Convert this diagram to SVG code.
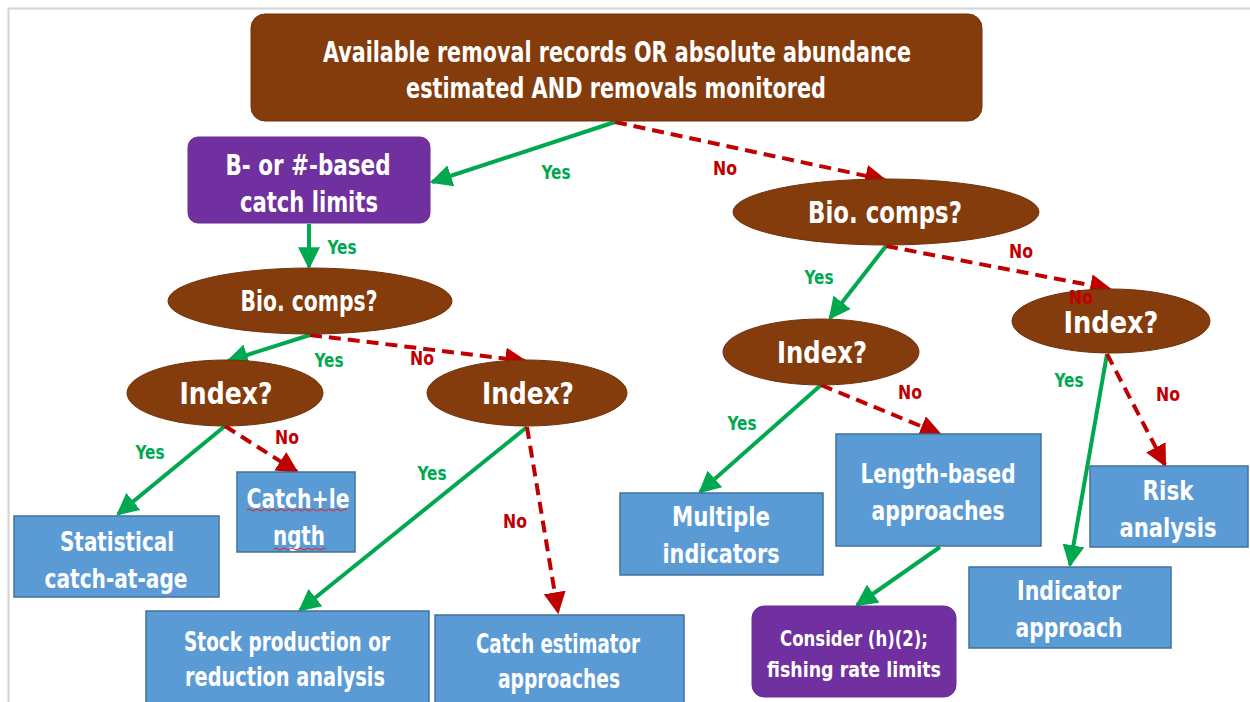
<svg xmlns="http://www.w3.org/2000/svg" width="1250" height="702" viewBox="0 0 1250 702">
<style>
text{font-family:"DejaVu Sans","Liberation Sans",sans-serif;font-stretch:condensed;font-weight:bold;text-anchor:middle}
.t{fill:#ffffff}
.brown{fill:#843c0c;stroke:#6e320a;stroke-width:1}
.purple{fill:#7030a0;stroke:#6a2c98;stroke-width:1}
.blue{fill:#5b9bd5;stroke:#41719c;stroke-width:1.5}
.yes{stroke:#00a84f;stroke-width:4;fill:none}
.no{stroke:#c00000;stroke-width:4;fill:none;stroke-dasharray:12 7}
.ly{fill:#00a84f;font-size:19px}
.ln{fill:#c00000;font-size:19px}
</style>
<defs>
<marker id="ag" viewBox="0 0 10 10" refX="9" refY="5" markerWidth="5.5" markerHeight="5.5" orient="auto" markerUnits="strokeWidth"><path d="M0,0 L10,5 L0,10 z" fill="#00a84f"/></marker>
<marker id="ar" viewBox="0 0 10 10" refX="9" refY="5" markerWidth="5.5" markerHeight="5.5" orient="auto" markerUnits="strokeWidth"><path d="M0,0 L10,5 L0,10 z" fill="#c00000"/></marker>
</defs>
<rect x="0" y="0" width="1250" height="702" fill="#ffffff"/>
<path d="M8,8.5 H1250 M8.5,8 V702" stroke="#d4d4d4" stroke-width="2" fill="none"/>

<g id="connectors">
<line class="yes" x1="615" y1="122" x2="432" y2="182" marker-end="url(#ag)"/>
<line class="no" x1="615" y1="122" x2="885" y2="180" marker-end="url(#ar)"/>
<line class="yes" x1="309" y1="224" x2="309" y2="267" marker-end="url(#ag)"/>
<line class="yes" x1="310" y1="335" x2="228" y2="361" marker-end="url(#ag)"/>
<line class="no" x1="310" y1="335" x2="525" y2="361" marker-end="url(#ar)"/>
<line class="yes" x1="225" y1="426" x2="118" y2="514" marker-end="url(#ag)"/>
<line class="no" x1="225" y1="426" x2="297" y2="472" marker-end="url(#ar)"/>
<line class="yes" x1="527" y1="427" x2="300" y2="610" marker-end="url(#ag)"/>
<line class="no" x1="527" y1="427" x2="558" y2="612" marker-end="url(#ar)"/>
<line class="yes" x1="886" y1="246" x2="830" y2="318" marker-end="url(#ag)"/>
<line class="no" x1="886" y1="246" x2="1110" y2="289" marker-end="url(#ar)"/>
<line class="yes" x1="821" y1="385" x2="700" y2="492" marker-end="url(#ag)"/>
<line class="no" x1="821" y1="385" x2="940" y2="434" marker-end="url(#ar)"/>
<line class="yes" x1="940" y1="547" x2="857" y2="605" marker-end="url(#ag)"/>
<line class="yes" x1="1107" y1="354" x2="1070" y2="565" marker-end="url(#ag)"/>
<line class="no" x1="1107" y1="354" x2="1165" y2="465" marker-end="url(#ar)"/>
</g>

<g id="top">
<rect class="brown" x="251" y="14" width="731" height="107" rx="14"/>
<text class="t" x="617" y="62" font-size="29" textLength="588" lengthAdjust="spacingAndGlyphs">Available removal records OR absolute abundance</text>
<text class="t" x="616" y="98" font-size="29" textLength="420" lengthAdjust="spacingAndGlyphs">estimated AND removals monitored</text>
</g>
<g id="catchlimits">
<rect class="purple" x="188" y="137" width="242" height="86" rx="10"/>
<text class="t" x="308" y="175" font-size="28" textLength="165" lengthAdjust="spacingAndGlyphs">B- or #-based</text>
<text class="t" x="309" y="212" font-size="28" textLength="138" lengthAdjust="spacingAndGlyphs">catch limits</text>
</g>
<g id="bio-left">
<ellipse class="brown" cx="310" cy="301" rx="142" ry="33"/>
<text class="t" x="309" y="311" font-size="28" textLength="137" lengthAdjust="spacingAndGlyphs">Bio. comps?</text>
</g>
<g id="index-left">
<ellipse class="brown" cx="225" cy="393" rx="98" ry="33"/>
<text class="t" x="226" y="404" font-size="31" textLength="93" lengthAdjust="spacingAndGlyphs">Index?</text>
</g>
<g id="index-mid">
<ellipse class="brown" cx="527" cy="393" rx="100" ry="33"/>
<text class="t" x="528" y="404" font-size="31" textLength="92" lengthAdjust="spacingAndGlyphs">Index?</text>
</g>
<g id="statistical">
<rect class="blue" x="14" y="516" width="205" height="81"/>
<text class="t" x="117" y="551" font-size="27" textLength="114" lengthAdjust="spacingAndGlyphs">Statistical</text>
<text class="t" x="116" y="588" font-size="27" textLength="143" lengthAdjust="spacingAndGlyphs">catch-at-age</text>
</g>
<g id="catchlength">
<rect class="blue" x="237" y="472" width="118" height="80"/>
<text class="t" x="298" y="508" font-size="27" textLength="103" lengthAdjust="spacingAndGlyphs">Catch+le</text>
<text class="t" x="299" y="545" font-size="27" textLength="52" lengthAdjust="spacingAndGlyphs">ngth</text>
<path d="M247,510 q2,-2 4,0 t4,0 t4,0 t4,0 t4,0 t4,0 t4,0 t4,0 t4,0 t4,0 t4,0 t4,0 t4,0 t4,0 t4,0 t4,0 t4,0 t4,0 t4,0 t4,0 t4,0 t4,0 t4,0 t4,0 t4,0 M274,549 q2,-2 4,0 t4,0 t4,0 t4,0 t4,0 t4,0 t4,0 t4,0 t4,0 t4,0 t4,0 t4,0 t4,0" stroke="#e02020" stroke-width="1" fill="none"/>
</g>
<g id="stockprod">
<rect class="blue" x="146" y="611" width="283" height="95"/>
<text class="t" x="287" y="651" font-size="27" textLength="206" lengthAdjust="spacingAndGlyphs">Stock production or</text>
<text class="t" x="285" y="686" font-size="27" textLength="200" lengthAdjust="spacingAndGlyphs">reduction analysis</text>
</g>
<g id="catchest">
<rect class="blue" x="435" y="615" width="249" height="91"/>
<text class="t" x="558" y="653" font-size="27" textLength="164" lengthAdjust="spacingAndGlyphs">Catch estimator</text>
<text class="t" x="559" y="688" font-size="27" textLength="122" lengthAdjust="spacingAndGlyphs">approaches</text>
</g>
<g id="bio-right">
<ellipse class="brown" cx="886" cy="212" rx="153" ry="33"/>
<text class="t" x="885" y="223" font-size="30" textLength="154" lengthAdjust="spacingAndGlyphs">Bio. comps?</text>
</g>
<g id="index-mr">
<ellipse class="brown" cx="821" cy="352" rx="98" ry="33"/>
<text class="t" x="822" y="363" font-size="31" textLength="90" lengthAdjust="spacingAndGlyphs">Index?</text>
</g>
<g id="index-r">
<ellipse class="brown" cx="1111" cy="321" rx="99" ry="32"/>
<text class="t" x="1111" y="333" font-size="31" textLength="95" lengthAdjust="spacingAndGlyphs">Index?</text>
</g>
<g id="multiple">
<rect class="blue" x="620" y="493" width="203" height="82"/>
<text class="t" x="721" y="526" font-size="27" textLength="98" lengthAdjust="spacingAndGlyphs">Multiple</text>
<text class="t" x="721" y="563" font-size="27" textLength="117" lengthAdjust="spacingAndGlyphs">indicators</text>
</g>
<g id="lengthbased">
<rect class="blue" x="836" y="434" width="205" height="112"/>
<text class="t" x="938" y="483" font-size="27" textLength="155" lengthAdjust="spacingAndGlyphs">Length-based</text>
<text class="t" x="938" y="520" font-size="27" textLength="133" lengthAdjust="spacingAndGlyphs">approaches</text>
</g>
<g id="consider">
<rect class="purple" x="752" y="606" width="204" height="91" rx="12"/>
<text class="t" x="854" y="646" font-size="22" textLength="148" lengthAdjust="spacingAndGlyphs">Consider (h)(2);</text>
<text class="t" x="854" y="677" font-size="22" textLength="174" lengthAdjust="spacingAndGlyphs">fishing rate limits</text>
</g>
<g id="risk">
<rect class="blue" x="1090" y="466" width="158" height="81"/>
<text class="t" x="1168" y="500" font-size="27" textLength="51" lengthAdjust="spacingAndGlyphs">Risk</text>
<text class="t" x="1168" y="537" font-size="27" textLength="97" lengthAdjust="spacingAndGlyphs">analysis</text>
</g>
<g id="indicator">
<rect class="blue" x="969" y="567" width="202" height="81"/>
<text class="t" x="1069" y="600" font-size="27" textLength="104" lengthAdjust="spacingAndGlyphs">Indicator</text>
<text class="t" x="1069" y="637" font-size="27" textLength="107" lengthAdjust="spacingAndGlyphs">approach</text>
</g>

<g id="connector-labels">
<text class="ly" x="556" y="179" textLength="29" lengthAdjust="spacingAndGlyphs">Yes</text>
<text class="ln" x="725" y="175" textLength="24" lengthAdjust="spacingAndGlyphs">No</text>
<text class="ly" x="342" y="254" textLength="29" lengthAdjust="spacingAndGlyphs">Yes</text>
<text class="ly" x="329" y="367" textLength="29" lengthAdjust="spacingAndGlyphs">Yes</text>
<text class="ln" x="422" y="365" textLength="24" lengthAdjust="spacingAndGlyphs">No</text>
<text class="ly" x="150" y="459" textLength="29" lengthAdjust="spacingAndGlyphs">Yes</text>
<text class="ln" x="287" y="444" textLength="24" lengthAdjust="spacingAndGlyphs">No</text>
<text class="ly" x="432" y="480" textLength="29" lengthAdjust="spacingAndGlyphs">Yes</text>
<text class="ln" x="515" y="528" textLength="24" lengthAdjust="spacingAndGlyphs">No</text>
<text class="ly" x="819" y="284" textLength="29" lengthAdjust="spacingAndGlyphs">Yes</text>
<text class="ln" x="1021" y="258" textLength="24" lengthAdjust="spacingAndGlyphs">No</text>
<text class="ln" x="1081" y="304" textLength="24" lengthAdjust="spacingAndGlyphs">No</text>
<text class="ly" x="742" y="430" textLength="29" lengthAdjust="spacingAndGlyphs">Yes</text>
<text class="ln" x="910" y="399" textLength="24" lengthAdjust="spacingAndGlyphs">No</text>
<text class="ly" x="1069" y="387" textLength="29" lengthAdjust="spacingAndGlyphs">Yes</text>
<text class="ln" x="1168" y="401" textLength="24" lengthAdjust="spacingAndGlyphs">No</text>
</g>
</svg>
